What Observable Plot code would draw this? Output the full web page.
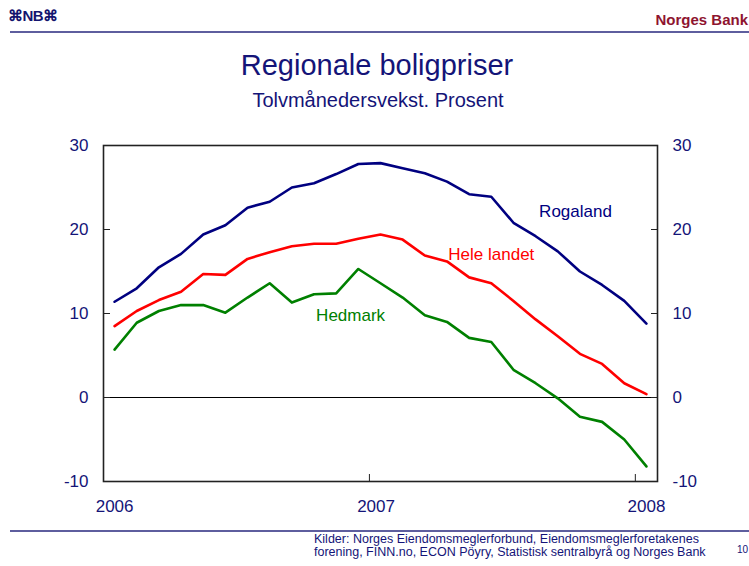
<!DOCTYPE html>
<html><head><meta charset="utf-8">
<script src="https://cdn.jsdelivr.net/npm/d3@7"></script>
<script src="https://cdn.jsdelivr.net/npm/@observablehq/plot@0.6"></script>
<style>
body{margin:0;background:#fff;width:749px;height:566px;position:relative;overflow:hidden;font-family:"Liberation Sans",Arial,sans-serif;}
.abs{position:absolute;white-space:nowrap;line-height:1}
#chart{position:absolute;left:0;top:130px}
</style></head><body>
<div class="abs" style="left:8px;top:8px;font-size:15px;font-weight:bold;color:#14146e;letter-spacing:-0.5px">⌘NB⌘</div>
<div class="abs" style="right:1px;top:12px;font-size:15px;font-weight:bold;color:#8e1430">Norges Bank</div>
<div class="abs" style="left:10px;top:31px;width:739px;height:2px;background:#5e5e9e"></div>
<div class="abs" style="left:0;width:754px;top:51px;text-align:center;font-size:29px;color:#141478">Regionale boligpriser</div>
<div class="abs" style="left:0;width:756px;top:90px;text-align:center;font-size:20px;color:#141478">Tolvmånedersvekst. Prosent</div>
<div id="chart"></div>
<div class="abs" style="left:10px;top:530px;width:739px;height:2px;background:#5e5e9e"></div>
<div class="abs" style="left:314px;top:533px;font-size:12.5px;line-height:13px;color:#141478">Kilder: Norges Eiendomsmeglerforbund, Eiendomsmeglerforetakenes<br>forening, FINN.no, ECON Pöyry, Statistisk sentralbyrå og Norges Bank</div>
<div class="abs" style="left:737px;top:545px;font-size:10px;color:#141478">10</div>
<script>
const months = ["jan 2006","feb 2006","mar 2006","apr 2006","mai 2006","jun 2006","jul 2006","aug 2006","sep 2006","okt 2006","nov 2006","des 2006",
  "jan 2007","feb 2007","mar 2007","apr 2007","mai 2007","jun 2007","jul 2007","aug 2007","sep 2007","okt 2007","nov 2007","des 2007","jan 2008"];
const rogaland = [11.4, 13.0, 15.5, 17.1, 19.4, 20.5, 22.6, 23.3, 25.0, 25.5, 26.6, 27.8, 27.9, 27.3, 26.7, 25.7, 24.2, 23.9, 20.8, 19.2, 17.4, 15.0, 13.4, 11.5, 8.8];
const heleLandet = [8.5, 10.3, 11.6, 12.6, 14.7, 14.6, 16.5, 17.3, 18.0, 18.3, 18.3, 18.9, 19.4, 18.8, 16.9, 16.2, 14.3, 13.6, 11.5, 9.3, 7.3, 5.2, 4.0, 1.7, 0.4];
const hedmark = [5.7, 8.9, 10.3, 11.0, 11.0, 10.1, 11.9, 13.6, 11.3, 12.3, 12.4, 15.3, 13.6, 11.9, 9.8, 9.0, 7.1, 6.6, 3.3, 1.7, -0.1, -2.3, -2.9, -5.0, -8.2];
const seriesNames = ["Rogaland", "Hele landet", "Hedmark"];
const seriesColors = ["#000080", "#ff0000", "#008000"];
const yTicks = [-10, 0, 10, 20, 30];
const yTickLabels = ["-10", "0", "10", "20", "30"];
const yearLabels = ["2006", "2007", "2008"];
const yearLabelPos = [0, 11.8, 24];
const yearTickPos = [-0.5, 11.5, 23.5];
const labelX = [20.8, 17.0, 10.65];
const labelY = [22.1, 17.0, 9.8];

const toRows = (vals, name) => vals.map((v, i) => ({i, month: months[i], v, name}));
const seriesData = [rogaland, heleLandet, hedmark].map((s, k) => toRows(s, seriesNames[k]));
const labels = seriesNames.map((n, k) => ({name: n, x: labelX[k], y: labelY[k], color: seriesColors[k]}));
const navy = "#141478";
const yFmt = (d, i) => yTickLabels[i];

const plot = Plot.plot({
  width: 749, height: 400,
  marginTop: 15, marginBottom: 49, marginLeft: 103, marginRight: 92,
  style: {fontFamily: '"Liberation Sans", Arial, sans-serif', fontSize: "17px", color: navy, background: "transparent", overflow: "visible"},
  x: {domain: [-0.5, 24.5], label: null},
  y: {domain: [-10, 30], label: null},
  marks: [
    Plot.ruleY([0], {stroke: "black", strokeWidth: 1.2}),
    Plot.axisY(yTicks, {anchor: "left", tickSize: -7, tickPadding: 22, stroke: "#222", fill: navy, fontSize: 17, tickFormat: yFmt}),
    Plot.axisY(yTicks, {anchor: "right", tickSize: -7, tickPadding: 22, stroke: "#222", fill: navy, fontSize: 17, tickFormat: yFmt}),
    Plot.axisX(yearTickPos, {anchor: "bottom", tickSize: -7, stroke: "#222", tickFormat: () => ""}),
    Plot.axisX(yearLabelPos, {anchor: "bottom", tickSize: 0, tickPadding: 18, fill: navy, fontSize: 17, tickFormat: (d, i) => yearLabels[i]}),
    Plot.frame({stroke: "#222", strokeWidth: 1.6}),
    ...seriesData.map((rows, k) => Plot.line(rows, {x: "i", y: "v", stroke: seriesColors[k], strokeWidth: 2.6})),
    Plot.text(labels, {x: "x", y: "y", text: "name", fill: "color", fontSize: 17})
  ]
});
document.getElementById("chart").appendChild(plot);
</script>
</body></html>
